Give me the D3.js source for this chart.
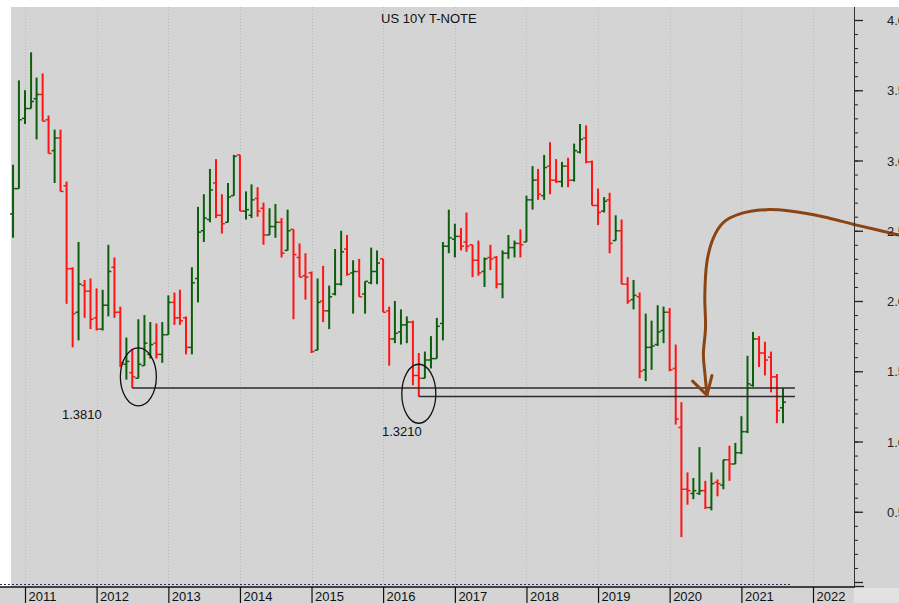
<!DOCTYPE html>
<html>
<head>
<meta charset="utf-8">
<script src="https://cdn.jsdelivr.net/npm/d3@7"></script>
<style>
  body { margin: 0; background: #fff; }
  svg { display: block; font-family: "Liberation Sans", Arial, sans-serif; }
</style>
</head>
<body>
<div id="chart"></div>
<script>
// monthly bars, first one is Nov 2010
var firstMonth = "2010-11";
var opens = [2.62, 2.80, 3.30, 3.37, 3.44, 3.47, 3.29, 3.07, 3.16, 2.82, 2.23, 1.92, 2.11, 2.07,
  1.88, 1.80, 1.97, 2.24, 1.92, 1.55, 1.49, 1.45, 1.54, 1.62, 1.70, 1.62,
  1.76, 1.99, 1.88, 1.88, 1.67, 2.16, 2.50, 2.58, 2.84, 2.61, 2.56, 2.75,
  3.04, 2.64, 2.61, 2.73, 2.66, 2.47, 2.53, 2.56, 2.36, 2.51, 2.31, 2.18,
  2.20, 1.65, 2.00, 1.93, 2.05, 2.12, 2.37, 2.20, 2.21, 2.05, 2.13, 2.21,
  2.30, 1.93, 1.73, 1.78, 1.83, 1.85, 1.47, 1.45, 1.58, 1.59, 1.84, 2.39,
  2.44, 2.46, 2.42, 2.40, 2.29, 2.21, 2.31, 2.31, 2.12, 2.34, 2.38, 2.41,
  2.42, 2.72, 2.86, 2.75, 2.96, 2.86, 2.85, 2.96, 2.86, 3.06, 3.16, 2.99,
  2.68, 2.64, 2.72, 2.43, 2.50, 2.12, 2.01, 2.03, 1.51, 1.67, 1.69, 1.79,
  1.92, 1.52, 1.10, 0.66, 0.63, 0.63, 0.65, 0.53, 0.71, 0.69, 0.87, 0.84,
  0.92, 1.07, 1.40, 1.73, 1.63, 1.60, 1.46, 1.24];
var highs = [2.97, 3.57, 3.50, 3.77, 3.59, 3.62, 3.32, 3.22, 3.22, 2.85, 2.24, 2.42, 2.15, 2.16,
  2.09, 2.08, 2.40, 2.31, 1.96, 1.74, 1.66, 1.87, 1.90, 1.85, 1.84, 1.85,
  2.04, 2.06, 2.08, 1.89, 2.24, 2.67, 2.76, 2.94, 3.01, 2.76, 2.84, 3.04,
  3.04, 2.78, 2.83, 2.81, 2.70, 2.66, 2.69, 2.59, 2.65, 2.51, 2.41, 2.34,
  2.21, 2.16, 2.25, 2.11, 2.37, 2.50, 2.47, 2.29, 2.30, 2.14, 2.38, 2.36,
  2.30, 1.96, 2.00, 1.94, 1.89, 1.86, 1.63, 1.64, 1.75, 1.88, 2.42, 2.65,
  2.55, 2.52, 2.63, 2.40, 2.43, 2.31, 2.40, 2.32, 2.36, 2.47, 2.43, 2.51,
  2.75, 2.96, 2.94, 3.04, 3.13, 3.01, 2.99, 3.02, 3.12, 3.26, 3.25, 3.00,
  2.80, 2.74, 2.77, 2.61, 2.58, 2.17, 2.15, 2.06, 1.91, 1.86, 1.97, 1.96,
  1.95, 1.69, 1.28, 0.78, 0.74, 0.96, 0.72, 0.78, 0.73, 0.87, 0.97, 0.99,
  1.18, 1.61, 1.78, 1.75, 1.71, 1.64, 1.48, 1.38];
var lows = [2.45, 2.80, 3.26, 3.37, 3.15, 3.28, 3.05, 2.84, 2.78, 1.98, 1.67, 1.72, 1.88, 1.80,
  1.79, 1.79, 1.89, 1.88, 1.53, 1.44, 1.38, 1.45, 1.54, 1.59, 1.59, 1.56,
  1.76, 1.83, 1.83, 1.62, 1.62, 1.99, 2.42, 2.56, 2.59, 2.48, 2.56, 2.75,
  2.64, 2.58, 2.59, 2.60, 2.40, 2.47, 2.45, 2.31, 2.36, 1.87, 2.17, 2.01,
  1.63, 1.65, 1.85, 1.80, 2.04, 2.11, 2.18, 1.91, 2.03, 1.91, 2.12, 2.12,
  1.92, 1.54, 1.70, 1.69, 1.70, 1.40, 1.32, 1.45, 1.52, 1.59, 1.72, 2.34,
  2.31, 2.36, 2.35, 2.17, 2.18, 2.10, 2.22, 2.09, 2.02, 2.30, 2.31, 2.31,
  2.42, 2.65, 2.72, 2.72, 2.76, 2.84, 2.81, 2.81, 2.85, 3.05, 2.98, 2.68,
  2.54, 2.63, 2.34, 2.43, 2.12, 1.98, 1.94, 1.45, 1.43, 1.51, 1.68, 1.70,
  1.50, 1.12, 0.32, 0.55, 0.59, 0.62, 0.52, 0.51, 0.61, 0.66, 0.72, 0.84,
  0.91, 1.06, 1.39, 1.53, 1.47, 1.35, 1.13, 1.13];
var closes = [2.80, 3.29, 3.37, 3.42, 3.47, 3.28, 3.05, 3.16, 2.78, 2.23, 1.91, 2.12, 2.07, 1.87,
  1.80, 1.97, 2.21, 1.92, 1.56, 1.57, 1.46, 1.55, 1.70, 1.69, 1.62, 1.76,
  1.99, 1.88, 1.86, 1.67, 2.13, 2.49, 2.59, 2.79, 2.61, 2.55, 2.74, 3.03,
  2.64, 2.65, 2.72, 2.64, 2.47, 2.53, 2.56, 2.34, 2.50, 2.33, 2.17, 2.17,
  1.64, 1.99, 1.93, 2.03, 2.12, 2.35, 2.19, 2.21, 2.03, 2.14, 2.21, 2.27,
  1.92, 1.73, 1.77, 1.83, 1.85, 1.47, 1.45, 1.58, 1.59, 1.82, 2.39, 2.45,
  2.46, 2.39, 2.39, 2.29, 2.20, 2.30, 2.30, 2.12, 2.34, 2.38, 2.41, 2.40,
  2.72, 2.86, 2.76, 2.95, 2.86, 2.85, 2.96, 2.86, 3.07, 3.15, 2.99, 2.68,
  2.63, 2.71, 2.41, 2.50, 2.12, 2.00, 2.04, 1.50, 1.67, 1.68, 1.78, 1.92,
  1.51, 1.16, 0.66, 0.65, 0.65, 0.65, 0.53, 0.70, 0.70, 0.87, 0.84, 0.92,
  1.07, 1.41, 1.73, 1.63, 1.58, 1.46, 1.22, 1.28];

var yTicksMajor = [0.5, 1.0, 1.5, 2.0, 2.5, 3.0, 3.5, 4.0];
var lows2012 = { month: "2012-07", value: 1.3810, label: "1.3810" };
var lows2016 = { month: "2016-07", value: 1.3210, label: "1.3210" };
var title = "US 10Y T-NOTE";

// hand drawn arrow, [year, yield]
var arrowPts = [[2023.20, 2.47], [2022.61, 2.54], [2022.14, 2.60], [2021.68, 2.64], [2021.35, 2.65],
  [2020.98, 2.62], [2020.75, 2.56], [2020.61, 2.45], [2020.52, 2.28], [2020.49, 2.04],
  [2020.50, 1.81], [2020.47, 1.62], [2020.49, 1.49], [2020.52, 1.33]];
var arrowHead = [[2020.32, 1.43], [2020.52, 1.33], [2020.59, 1.47]];

var W = 899, H = 603;
var parseM = d3.timeParse("%Y-%m");
var start = parseM(firstMonth);

var bars = opens.map(function (o, i) {
    return { date: d3.timeMonth.offset(start, i), o: o, h: highs[i], l: lows[i], c: closes[i] };
});

var x = d3.scaleTime()
    .domain([new Date(2011, 0, 1), new Date(2022, 0, 1)])
    .range([25, 813]);
var y = d3.scaleLinear().domain([0, 4]).range([582, 20]);

function fromYear(t) {
    var yr = Math.floor(t);
    var a = new Date(yr, 0, 1), b = new Date(yr + 1, 0, 1);
    return new Date(+a + (t - yr) * (b - a));
}

var svg = d3.select("#chart").append("svg")
    .attr("width", W)
    .attr("height", H);

svg.append("rect").attr("width", W).attr("height", H).attr("fill", "#fff");
svg.append("rect").attr("x", 11).attr("y", 7).attr("width", W - 11).attr("height", H - 7).attr("fill", "#d4d4d4");
svg.append("rect").attr("x", 0).attr("y", 587).attr("width", 11).attr("height", 16).attr("fill", "#d4d4d4");
svg.append("rect").attr("x", 854).attr("y", 588).attr("width", W - 854).attr("height", 15).attr("fill", "#e2e2e2");

var years = d3.timeYear.range(new Date(2011, 0, 1), new Date(2022, 1, 1));

// dotted year grid
svg.append("g").selectAll("line")
    .data(years)
    .enter().append("line")
    .attr("x1", function (d) { return Math.round(x(d)) + 0.5; })
    .attr("x2", function (d) { return Math.round(x(d)) + 0.5; })
    .attr("y1", 7)
    .attr("y2", 584)
    .attr("stroke", "#bcbcbc")
    .attr("stroke-dasharray", "1,2");

// bars
var gb = svg.append("g");
bars.forEach(function (d) {
    var col = d.c >= d.o ? "#0b5e0b" : "#ff1414";
    var cx = x(d.date);
    gb.append("line")
        .attr("x1", cx).attr("x2", cx)
        .attr("y1", y(d.h)).attr("y2", y(d.l))
        .attr("stroke", col).attr("stroke-width", 2);
    gb.append("line")
        .attr("x1", cx - 3).attr("x2", cx)
        .attr("y1", y(d.o)).attr("y2", y(d.o))
        .attr("stroke", col).attr("stroke-width", 1.5);
    gb.append("line")
        .attr("x1", cx).attr("x2", cx + 3)
        .attr("y1", y(d.c)).attr("y2", y(d.c))
        .attr("stroke", col).attr("stroke-width", 1.5);
});

// support lines
var lineEnd = x(new Date(2021, 9, 1));
[lows2012, lows2016].forEach(function (s) {
    var sx = x(parseM(s.month));
    svg.append("path")
        .attr("d", "M" + sx + "," + y(s.value) + "H" + lineEnd)
        .attr("stroke", "#2b2b2b")
        .attr("stroke-width", 1.5)
        .attr("fill", "none");
});

// circles around the lows
svg.append("ellipse")
    .attr("cx", x(new Date(2012, 7, 1))).attr("cy", y(1.46))
    .attr("rx", 18).attr("ry", 29)
    .attr("fill", "none").attr("stroke", "#111").attr("stroke-width", 1.3);
svg.append("ellipse")
    .attr("cx", x(new Date(2016, 6, 1))).attr("cy", y(1.34))
    .attr("rx", 17).attr("ry", 29.5)
    .attr("fill", "none").attr("stroke", "#111").attr("stroke-width", 1.3);

svg.append("text").attr("x", 62).attr("y", 419)
    .attr("font-size", 13).attr("fill", "#111").text(lows2012.label);
svg.append("text").attr("x", 382).attr("y", 436)
    .attr("font-size", 13).attr("fill", "#111").text(lows2016.label);

// arrow
var arrowLine = d3.line()
    .x(function (d) { return x(fromYear(d[0])); })
    .y(function (d) { return y(d[1]); })
    .curve(d3.curveCatmullRom);
svg.append("path")
    .attr("d", arrowLine(arrowPts))
    .attr("fill", "none").attr("stroke", "#8b4513")
    .attr("stroke-width", 3).attr("stroke-linecap", "round");
svg.append("path")
    .attr("d", d3.line()
        .x(function (d) { return x(fromYear(d[0])); })
        .y(function (d) { return y(d[1]); })(arrowHead))
    .attr("fill", "none").attr("stroke", "#8b4513")
    .attr("stroke-width", 3).attr("stroke-linecap", "round").attr("stroke-linejoin", "round");

// title
svg.append("text").attr("x", 381).attr("y", 23)
    .attr("font-size", 13).attr("fill", "#111").text(title);

// right axis
var axisX = 854;
var minor = svg.append("g")
    .attr("transform", "translate(" + axisX + ",0)")
    .call(d3.axisRight(y).tickValues(d3.range(0, 41).map(function (i) { return i / 10; })).tickSize(4).tickFormat(""));
minor.select(".domain").remove();
minor.selectAll("line").attr("stroke", "#222");

var major = svg.append("g")
    .attr("transform", "translate(" + axisX + ",0)")
    .call(d3.axisRight(y).tickValues([0].concat(yTicksMajor)).tickSize(9).tickFormat(""));
major.select(".domain").remove();
major.selectAll("line").attr("stroke", "#222").attr("stroke-width", 1.3);

// labels sit past the window edge like in the original
svg.append("g").selectAll("text")
    .data(yTicksMajor)
    .enter().append("text")
    .attr("x", 887)
    .attr("y", function (d) { return y(d) + 5; })
    .attr("font-size", 13)
    .attr("fill", "#222")
    .text(function (d) { return d3.format(".2f")(d); });

svg.append("line")
    .attr("x1", axisX + 0.5).attr("x2", axisX + 0.5)
    .attr("y1", 7).attr("y2", 588)
    .attr("stroke", "#333");
svg.append("line")
    .attr("x1", axisX).attr("x2", axisX + 10)
    .attr("y1", 586.5).attr("y2", 586.5)
    .attr("stroke", "#222").attr("stroke-width", 1.3);

// bottom axis
svg.append("line")
    .attr("x1", 0).attr("x2", x(new Date(2021, 8, 15)))
    .attr("y1", 584.5).attr("y2", 584.5)
    .attr("stroke", "#2a2f5a").attr("stroke-dasharray", "2,2");
svg.append("line")
    .attr("x1", 0).attr("x2", axisX)
    .attr("y1", 587).attr("y2", 587)
    .attr("stroke", "#111").attr("stroke-width", 1.3);

var xAxis = svg.append("g")
    .attr("transform", "translate(0,587)")
    .call(d3.axisBottom(x).tickValues(years).tickSize(16).tickFormat(d3.timeFormat("%Y")));
xAxis.select(".domain").remove();
xAxis.selectAll("line").attr("stroke", "#111").attr("stroke-width", 1.2);
xAxis.selectAll("text")
    .attr("text-anchor", "start")
    .attr("x", 3).attr("y", 14).attr("dy", null)
    .attr("font-size", 13)
    .attr("font-family", "Liberation Sans, Arial, sans-serif")
    .attr("fill", "#111");
</script>
</body>
</html>
